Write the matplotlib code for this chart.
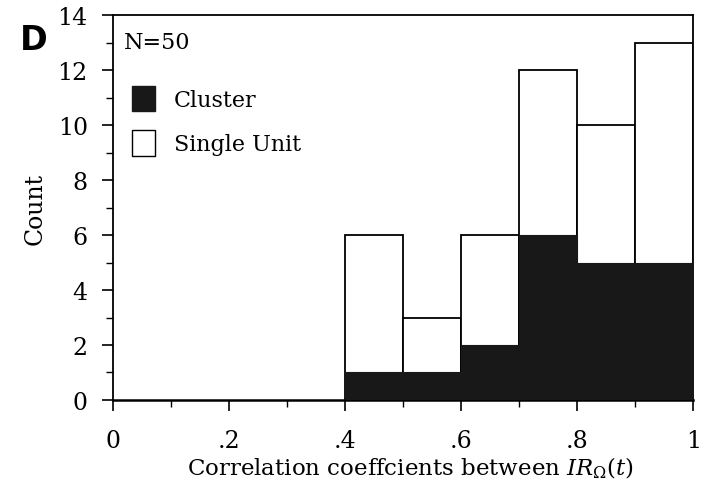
import matplotlib
matplotlib.use("Agg")
import matplotlib.pyplot as plt
from matplotlib.patches import Patch
from matplotlib.ticker import MultipleLocator
import numpy as np

bin_left = [0.4, 0.5, 0.6, 0.7, 0.8, 0.9]
total_counts = [6, 3, 6, 12, 10, 13]
cluster_counts = [1, 1, 2, 6, 5, 5]
x_ticks = [0, 0.2, 0.4, 0.6, 0.8, 1.0]
x_tick_labels = ["0", ".2", ".4", ".6", ".8", "1"]
y_ticks = [0, 2, 4, 6, 8, 10, 12, 14]

plt.rcParams["font.family"] = ["DejaVu Serif"]
plt.rcParams["mathtext.fontset"] = "dejavuserif"

fig = plt.figure(figsize=(7.01, 4.89), dpi=100)
ax = fig.add_axes([0.161, 0.180, 0.828, 0.787])

width = 0.1
ax.bar(bin_left, total_counts, width=width, align="edge",
       color="white", edgecolor="black", linewidth=1.3, zorder=2)
ax.bar(bin_left, cluster_counts, width=width, align="edge",
       color="#181818", edgecolor="#181818", linewidth=0.8, zorder=3)

ax.set_xlim(0, 1)
ax.set_ylim(0, 14)
ax.set_xticks(x_ticks)
ax.set_xticklabels(x_tick_labels)
ax.set_yticks(y_ticks)
ax.xaxis.set_minor_locator(MultipleLocator(0.1))
ax.yaxis.set_minor_locator(MultipleLocator(1))
ax.tick_params(axis="both", which="major", direction="out", length=8,
               width=1.2, labelsize=17, pad=10)
ax.tick_params(axis="x", which="major", pad=13)
ax.tick_params(axis="both", which="minor", direction="out", length=5,
               width=1.0)
for side in ["left", "bottom", "top", "right"]:
    ax.spines[side].set_linewidth(1.3)
ax.spines["bottom"].set_linewidth(1.8)

ax.set_xlabel(r"Correlation coeffcients between $IR_{\Omega}(t)$",
              fontsize=16.5)
ax.xaxis.set_label_coords(0.512, -0.142)
ax.set_ylabel("Count", fontsize=17, labelpad=8)

ax.text(0.019, 0.958, "N=50", transform=ax.transAxes, fontsize=16,
        ha="left", va="top")

handles = [Patch(facecolor="#181818", edgecolor="#181818", label="Cluster"),
           Patch(facecolor="white", edgecolor="black", label="Single Unit")]
ax.legend(handles=handles, loc="upper left", bbox_to_anchor=(0.017, 0.84),
          frameon=False, fontsize=16, handlelength=1.05, handleheight=1.4,
          handletextpad=0.85, labelspacing=0.85, borderaxespad=0.0)

fig.text(0.028, 0.918, "D", fontsize=24, fontweight="bold",
         family="DejaVu Sans", ha="left", va="center")

fig.savefig("out.png", dpi=100)
